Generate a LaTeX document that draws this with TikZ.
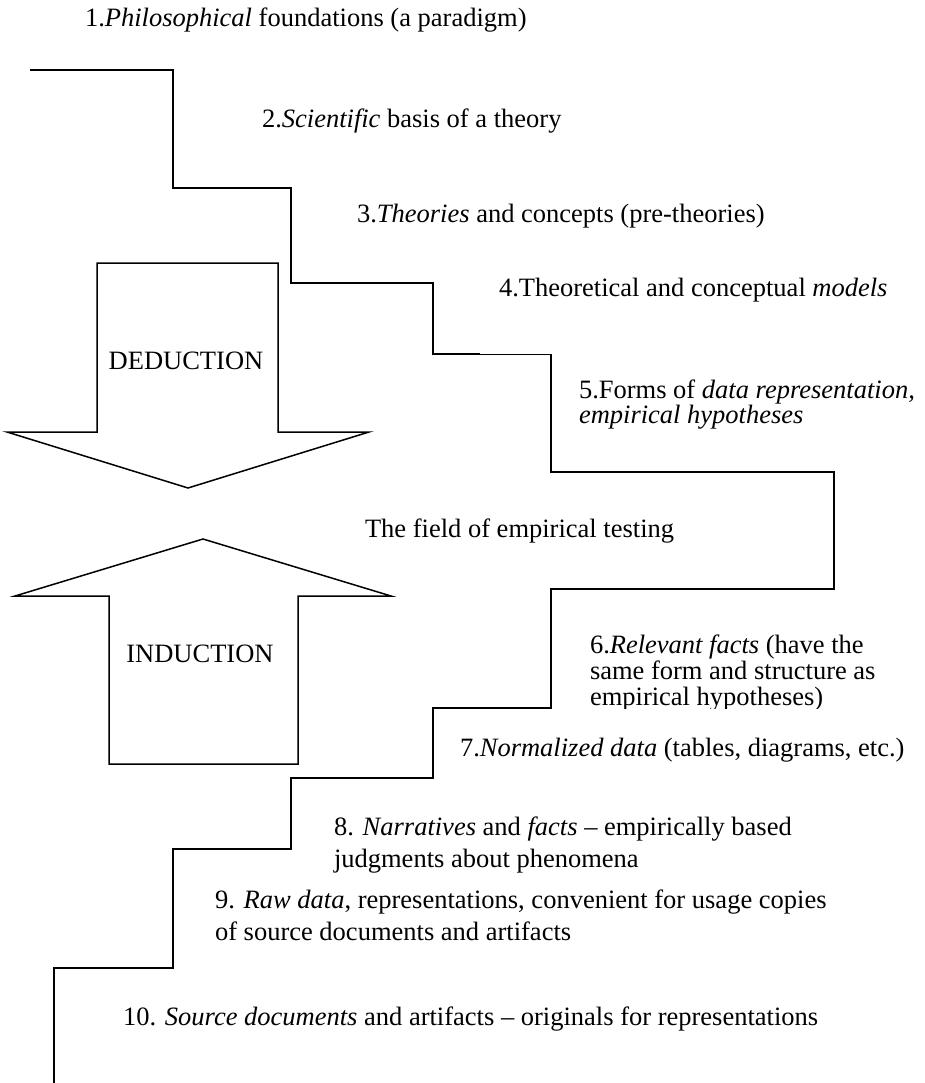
\documentclass[tikz,border=0pt]{standalone}
\usepackage{fontspec}
\setmainfont{Liberation Serif}
\newcommand\mytightlines{\lineskiplimit=-100pt\lineskip=0pt\relax}
\newcommand\fsA{\fontsize{26.5}{30}\selectfont\mytightlines}
\newcommand\fsB{\fontsize{26.5}{25}\selectfont\mytightlines}
\newcommand\fsC{\fontsize{26.5}{26}\selectfont\mytightlines}
\newcommand\fsD{\fontsize{26.5}{32}\selectfont\mytightlines}
\tikzset{
  txt/.style={anchor=base west, inner sep=0pt, outer sep=0pt, align=left, font=\fsA},
  ctxt/.style={anchor=base, inner sep=0pt, outer sep=0pt, font=\fsA},
  stair/.style={line width=1.7pt, line join=miter, black},
  thin/.style={line width=0.9pt, black},
  bigarrow/.style={line width=1.5pt, line join=miter, draw=black, fill=white}
}
\begin{document}
\begin{tikzpicture}[x=1pt,y=-1pt]
\useasboundingbox (0,0) rectangle (924,1083);
% staircase
\draw[stair] (30,70) -- (173,70) -- (173,188) -- (291,188) -- (291,283) -- (433,283) -- (433,354) -- (480,354);
\draw[thin] (480,354) -- (551,354);
\draw[stair] (551,354) -- (551,472) -- (834,472) -- (834,589) -- (551,589) -- (551,708) -- (433,708) -- (433,778) -- (291,778) -- (291,849) -- (173,849) -- (173,968) -- (54,968) -- (54,1083);
% deduction arrow
\draw[bigarrow] (97,263) -- (278,263) -- (278,432) -- (369,432) -- (188,488) -- (7,432) -- (97,432) -- cycle;
\node[ctxt] (ded) at (186,369) {DEDUCTION};
% induction arrow
\draw[bigarrow] (109,764) -- (109,596) -- (15,596) -- (203,539) -- (391,596) -- (298,596) -- (298,764) -- cycle;
\node[ctxt] (ind) at (200,662) {INDUCTION};
% texts (multi-line nodes: base = baseline of the last line)
\node[txt] (t1) at (85,27) {1.\textit{Philosophical} foundations (a paradigm)};
\node[txt] (t2) at (262,128) {2.\textit{Scientific} basis of a theory};
\node[txt] (t3) at (357,223) {3.\textit{Theories} and concepts (pre-theories)};
\node[txt] (t4) at (499,296) {4.Theoretical and conceptual \textit{models}};
\node[txt, font=\fsB] (t5) at (579,423) {5.Forms of \textit{data representation,}\\\textit{empirical hypotheses}};
\node[txt] (tf) at (365,537) {The field of empirical testing};
\begin{scope}
\clip (560,600) rectangle (924,708);
\node[txt, font=\fsC] (t6) at (590,705) {6.\textit{Relevant facts} (have the\\same form and structure as\\empirical hypotheses)};
\end{scope}
\node[txt] (t7) at (460,756) {7.\textit{Normalized data} (tables, diagrams, etc.)};
\node[txt, font=\fsD] (t8) at (334,867) {8. \textit{Narratives} and \textit{facts} -- empirically based\\judgments about phenomena};
\node[txt, font=\fsD] (t9) at (215,940) {9. \textit{Raw data}, representations, convenient for usage copies\\of source documents and artifacts};
\node[txt] (t10) at (123,1025) {10. \textit{Source documents} and artifacts -- originals for representations};
\end{tikzpicture}
\end{document}
